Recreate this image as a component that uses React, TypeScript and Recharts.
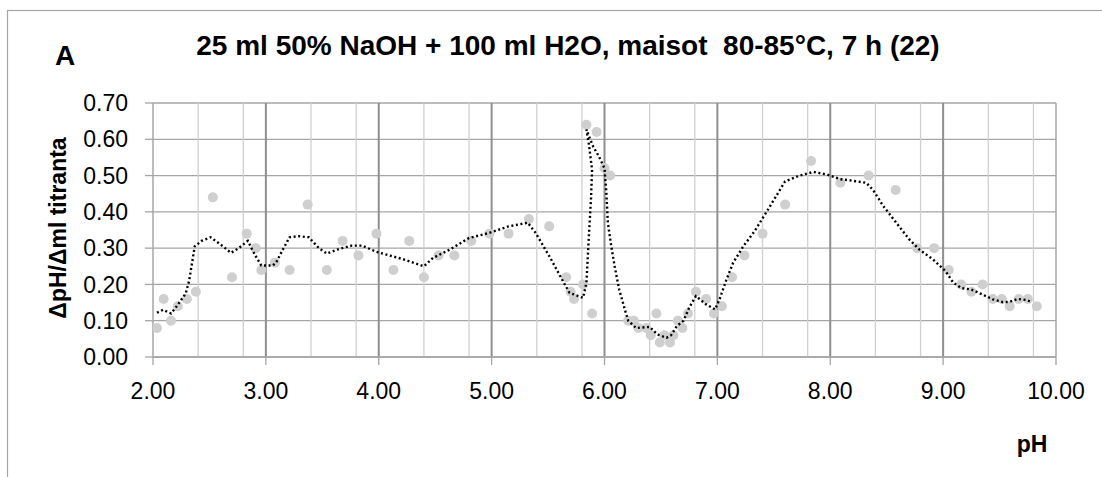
import React from 'react';
import {
  ComposedChart,
  Scatter,
  XAxis,
  YAxis,
  CartesianGrid,
} from 'recharts';

// measured points (pH vs dpH/dml)
const phPoints = [
  2.035, 2.094, 2.159, 2.22, 2.3, 2.38, 2.53, 2.7, 2.83, 2.91, 2.96, 3.08, 3.21, 3.37, 3.54, 3.68, 3.82, 3.98,
  4.13, 4.27, 4.4, 4.53, 4.67, 4.82, 4.98, 5.15, 5.33, 5.51, 5.66, 5.7, 5.73, 5.81, 5.84, 5.89, 5.93, 6.0,
  6.05, 6.21, 6.26, 6.3, 6.37, 6.41, 6.46, 6.49, 6.53, 6.58, 6.61, 6.65, 6.69, 6.74, 6.81, 6.9, 6.97, 7.04,
  7.13, 7.24, 7.4, 7.6, 7.83, 8.09, 8.34, 8.58, 8.77, 8.92, 9.05, 9.16, 9.25, 9.35, 9.44, 9.52, 9.59, 9.67,
  9.75, 9.83,
];
const derivValues = [
  0.08, 0.16, 0.1, 0.14, 0.16, 0.18, 0.44, 0.22, 0.34, 0.3, 0.24, 0.26, 0.24, 0.42, 0.24, 0.32, 0.28, 0.34,
  0.24, 0.32, 0.22, 0.28, 0.28, 0.32, 0.34, 0.34, 0.38, 0.36, 0.22, 0.18, 0.16, 0.2, 0.64, 0.12, 0.62, 0.52,
  0.5, 0.1, 0.1, 0.08, 0.08, 0.06, 0.12, 0.04, 0.06, 0.04, 0.06, 0.1, 0.08, 0.12, 0.18, 0.16, 0.12, 0.14,
  0.22, 0.28, 0.34, 0.42, 0.54, 0.48, 0.5, 0.46, 0.3, 0.3, 0.24, 0.2, 0.18, 0.2, 0.16, 0.16, 0.14, 0.16,
  0.16, 0.14,
];

// dotted trendline
const trendPh = [
  2.035, 2.09, 2.16, 2.21, 2.29, 2.32, 2.37, 2.43, 2.51, 2.62, 2.69, 2.76, 2.84, 2.9, 2.96, 3.06, 3.09, 3.15,
  3.21, 3.29, 3.38, 3.47, 3.54, 3.65, 3.76, 3.85, 3.98, 4.06, 4.21, 4.4, 4.48, 4.63, 4.8, 4.98, 5.15, 5.32,
  5.39, 5.52, 5.63, 5.69, 5.81, 5.84, 5.86, 5.88, 5.89, 5.86, 5.84, 5.86, 5.9, 5.95, 6.0, 6.015, 6.03, 6.06,
  6.09, 6.13, 6.18, 6.21, 6.28, 6.4, 6.47, 6.55, 6.59, 6.64, 6.7, 6.75, 6.81, 6.9, 6.98, 7.02, 7.08, 7.14,
  7.23, 7.33, 7.43, 7.52, 7.6, 7.73, 7.85, 7.97, 8.09, 8.17, 8.32, 8.38, 8.47, 8.56, 8.62, 8.7, 8.79, 8.91,
  9.02, 9.09, 9.16, 9.25, 9.35, 9.44, 9.53, 9.59, 9.66, 9.74, 9.79,
];
const trendValues = [
  0.122, 0.13, 0.12, 0.14, 0.175, 0.21, 0.305, 0.32, 0.33, 0.305, 0.287, 0.3, 0.32, 0.283, 0.252, 0.252, 0.26, 0.296,
  0.33, 0.333, 0.33, 0.3, 0.285, 0.298, 0.307, 0.307, 0.29, 0.283, 0.27, 0.25, 0.273, 0.296, 0.328, 0.342, 0.36, 0.37,
  0.342, 0.273, 0.21, 0.177, 0.163, 0.205, 0.324, 0.434, 0.516, 0.59, 0.627, 0.61, 0.58, 0.553, 0.52, 0.46, 0.37, 0.305,
  0.25, 0.186, 0.131, 0.1, 0.08, 0.083, 0.062, 0.053, 0.06, 0.085, 0.1, 0.136, 0.168, 0.145, 0.131, 0.16, 0.213, 0.26,
  0.305, 0.347, 0.397, 0.443, 0.484, 0.5, 0.51, 0.503, 0.49, 0.487, 0.48, 0.46, 0.416, 0.38, 0.356, 0.324, 0.296, 0.269,
  0.237, 0.205, 0.19, 0.186, 0.172, 0.159, 0.151, 0.152, 0.16, 0.157, 0.151,
];

const xTicks = [2, 3, 4, 5, 6, 7, 8, 9, 10];
const yTicks = [0, 0.1, 0.2, 0.3, 0.4, 0.5, 0.6, 0.7];

const title = '25 ml 50% NaOH + 100 ml H2O, maisot  80-85°C, 7 h (22)';

const points = phPoints.map((x, i) => ({ x, y: derivValues[i] }));
const trend = trendPh.map((x, i) => ({ x, y: trendValues[i] }));

// minor vertical gridlines every 0.2 pH
const minorX: number[] = [];
for (let i = 1; i < 40; i++) {
  if (i % 5 !== 0) minorX.push(2 + i * 0.2);
}

const FONT = "'Liberation Sans', Arial, sans-serif";

const GrayDot = (props: any) => (
  <circle cx={props.cx} cy={props.cy} r={5} fill="#cfcfcf" />
);

export default function App() {
  return (
    <div style={{ position: 'absolute', left: 0, top: 0, width: 1102, height: 477, background: '#fff', overflow: 'hidden' }}>
      <ComposedChart
        width={1102}
        height={477}
        margin={{ top: 103, right: 46, bottom: 60, left: 0 }}
        style={{ fontFamily: FONT }}
      >
        <CartesianGrid vertical={false} horizontalValues={yTicks} stroke="#a6a6a6" strokeWidth={1.3} />
        <CartesianGrid horizontal={false} verticalValues={minorX} stroke="#d0d0d0" strokeWidth={1.3} />
        <CartesianGrid horizontal={false} verticalValues={[3, 4, 5, 6, 7, 8, 9]} stroke="#8f8f8f" strokeWidth={2} />
        <CartesianGrid horizontal={false} verticalValues={[10]} stroke="#a6a6a6" strokeWidth={1.5} />
        <XAxis
          type="number"
          dataKey="x"
          domain={[2, 10]}
          ticks={xTicks}
          tickFormatter={(v: number) => v.toFixed(2)}
          height={60}
          axisLine={{ stroke: '#a6a6a6', strokeWidth: 1.5 }}
          tickLine={{ stroke: '#a6a6a6', strokeWidth: 1.3 }}
          tickSize={8}
          tickMargin={18}
          tick={{ fill: '#000', fontSize: 23, fontFamily: FONT }}
          allowDataOverflow
        />
        <YAxis
          type="number"
          dataKey="y"
          domain={[0, 0.7]}
          ticks={yTicks}
          tickFormatter={(v: number) => v.toFixed(2)}
          width={153}
          axisLine={{ stroke: '#a6a6a6', strokeWidth: 1.5 }}
          tickLine={{ stroke: '#a6a6a6', strokeWidth: 1.3 }}
          tickSize={8}
          tickMargin={17}
          tick={{ fill: '#000', fontSize: 23, fontFamily: FONT }}
          allowDataOverflow
        />
        <Scatter data={points} fill="#cfcfcf" shape={<GrayDot />} isAnimationActive={false} />
        <Scatter
          data={trend}
          fill="#000"
          shape={() => <g />}
          line={{ stroke: '#000', strokeWidth: 2.4, strokeDasharray: '2 2.6' }}
          isAnimationActive={false}
        />
      </ComposedChart>

      <svg width={1102} height={477} style={{ position: 'absolute', left: 0, top: 0, pointerEvents: 'none' }}>
        <rect x={7.5} y={10.5} width={2000} height={2000} fill="none" stroke="#a6a6a6" strokeWidth={1.2} />
        <text x={55} y={65} fontFamily={FONT} fontWeight="bold" fontSize={28} fill="#000">A</text>
        <text x={568} y={55} textAnchor="middle" fontFamily={FONT} fontWeight="bold" fontSize={28} fill="#000" style={{ whiteSpace: 'pre' }}>
          {title}
        </text>
        <text
          x={66}
          y={228}
          transform="rotate(-90, 66, 228)"
          textAnchor="middle"
          fontFamily={FONT}
          fontWeight="bold"
          fontSize={23}
          fill="#000"
        >
          ΔpH/Δml titranta
        </text>
        <text x={1032} y={452} textAnchor="middle" fontFamily={FONT} fontWeight="bold" fontSize={23} fill="#000">pH</text>
      </svg>
    </div>
  );
}
